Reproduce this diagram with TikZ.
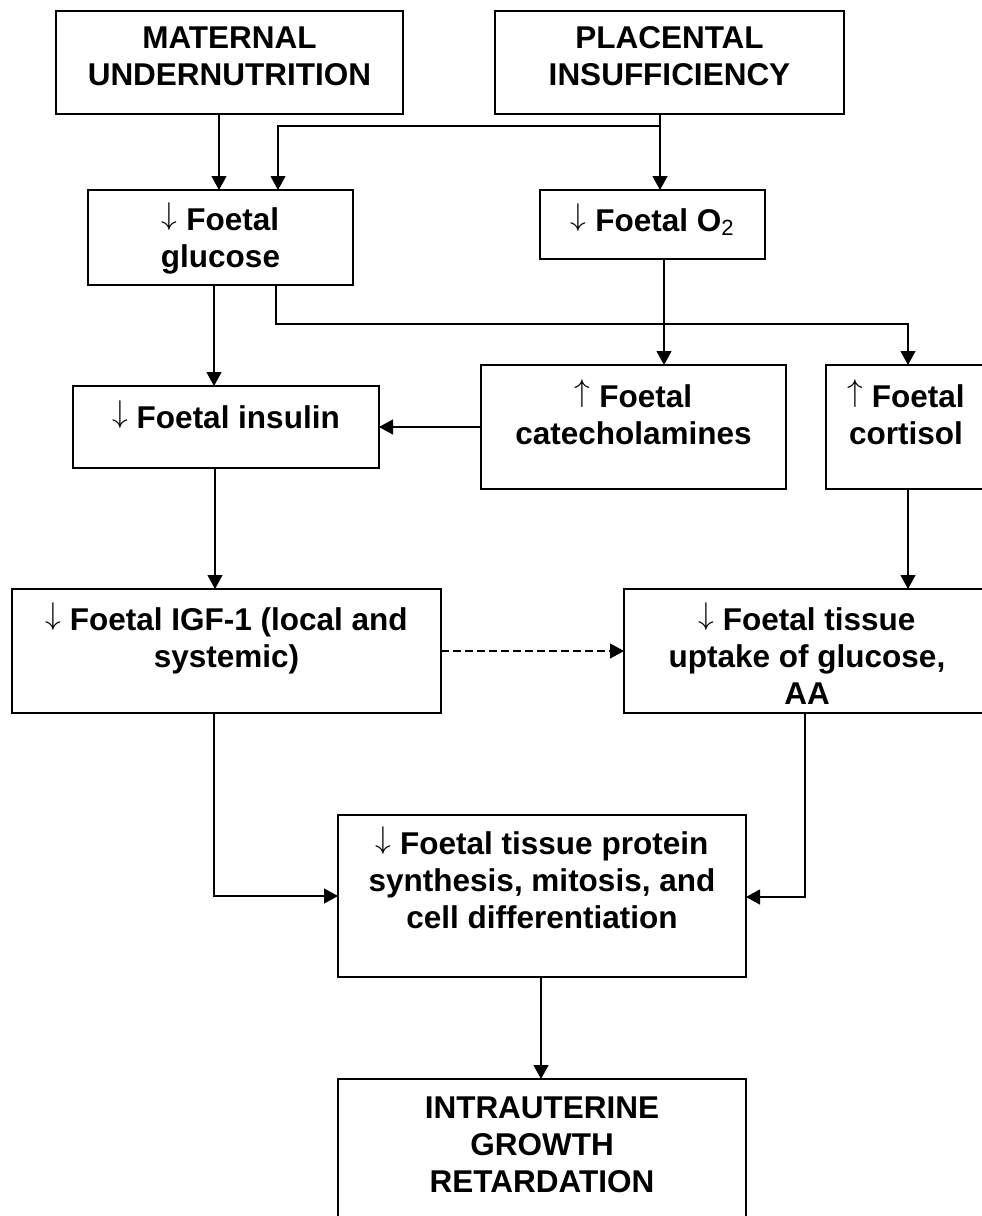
\documentclass[tikz,border=0pt]{standalone}
\usepackage{fix-cm}
\usepackage{fontspec}
\setmainfont{Liberation Sans}
\usetikzlibrary{arrows.meta}
\newcommand{\boxtext}[4]{\parbox[c][#2][t]{#1}{\centering\rule{0pt}{#3}#4}}
\newcommand{\dn}{\raisebox{0.19em}{$\downarrow$}}
\newcommand{\up}{\raisebox{0.19em}{$\uparrow$}}
\tikzset{
  box/.style={draw, line width=1.2pt, inner sep=0pt, outer sep=0pt, anchor=north west,
    font=\fontsize{31.5}{37}\selectfont\bfseries},
  ln/.style={line width=1.2pt},
  arr/.style={line width=1.2pt, -{Triangle[length=14pt,width=15pt]}},
  dasharr/.style={arr, dash pattern=on 8pt off 4pt}
}
\begin{document}
\begin{tikzpicture}[x=1pt,y=-1pt]
\useasboundingbox (0,0) rectangle (982,1216);
\clip (0,0) rectangle (982,1216);

\node[box] (mat) at (56,11) {\boxtext{347pt}{103pt}{37pt}{MATERNAL\\UNDERNUTRITION}};
\node[box] (pla) at (495,11) {\boxtext{349pt}{103pt}{37pt}{PLACENTAL\\INSUFFICIENCY}};
\node[box] (glu) at (88,190) {\boxtext{265pt}{95pt}{40pt}{\dn{} Foetal\\glucose}};
\node[box] (o2) at (540,190) {\boxtext{225pt}{69pt}{41pt}{\dn{} Foetal O\textsubscript{\mdseries 2}}};
\node[box] (ins) at (73,386) {\boxtext{306pt}{82pt}{42pt}{\dn{} Foetal insulin}};
\node[box] (cat) at (481,365) {\boxtext{305pt}{124pt}{42pt}{\up{} Foetal\\catecholamines}};
\node[box] (cor) at (826,365) {\boxtext{160pt}{124pt}{42pt}{\up{} Foetal\\cortisol}};
\node[box] (igf) at (12,589) {\boxtext{429pt}{124pt}{41pt}{\dn{} Foetal IGF-1 (local and\\systemic)}};
\node[box] (upt) at (624,589) {\boxtext{366pt}{124pt}{41pt}{\dn{} Foetal tissue\\uptake of glucose,\\AA}};
\node[box] (pro) at (338,815) {\boxtext{408pt}{162pt}{39pt}{\dn{} Foetal tissue protein\\synthesis, mitosis, and\\cell differentiation}};
\node[box] (igr) at (338,1079) {\boxtext{408pt}{170pt}{39pt}{INTRAUTERINE\\GROWTH\\RETARDATION}};

\coordinate (xa) at (219,0);
\coordinate (j1) at (660,126);
\coordinate (j2) at (278,126);
\coordinate (j3) at (276,324);
\coordinate (j4) at (908,324);
\coordinate (xo) at (664,0);
\coordinate (yc) at (0,427);
\coordinate (xg) at (214,0);
\coordinate (xi) at (215,0);
\coordinate (yd) at (0,651);
\coordinate (j5) at (214,896);
\coordinate (j6) at (805,897);
\coordinate (xp) at (541,0);

\draw[arr] (mat.south -| xa) -- (glu.north -| xa);
\draw[ln] (pla.south -| j1) -- (j1);
\draw[arr] (j1) -- (o2.north -| j1);
\draw[arr] (j1) -- (j2) -- (glu.north -| j2);
\draw[arr] (glu.south -| xg) -- (ins.north -| xg);
\draw[arr] (glu.south -| j3) -- (j3) -- (j4) -- (cor.north -| j4);
\draw[arr] (o2.south -| xo) -- (cat.north -| xo);
\draw[arr] (cat.west |- yc) -- (ins.east |- yc);
\draw[arr] (ins.south -| xi) -- (igf.north -| xi);
\draw[arr] (cor.south -| j4) -- (upt.north -| j4);
\draw[dasharr] (igf.east |- yd) -- (upt.west |- yd);
\draw[arr] (igf.south -| j5) -- (j5) -- (pro.west |- j5);
\draw[arr] (upt.south -| j6) -- (j6) -- (pro.east |- j6);
\draw[arr] (pro.south -| xp) -- (igr.north -| xp);
\end{tikzpicture}
\end{document}
